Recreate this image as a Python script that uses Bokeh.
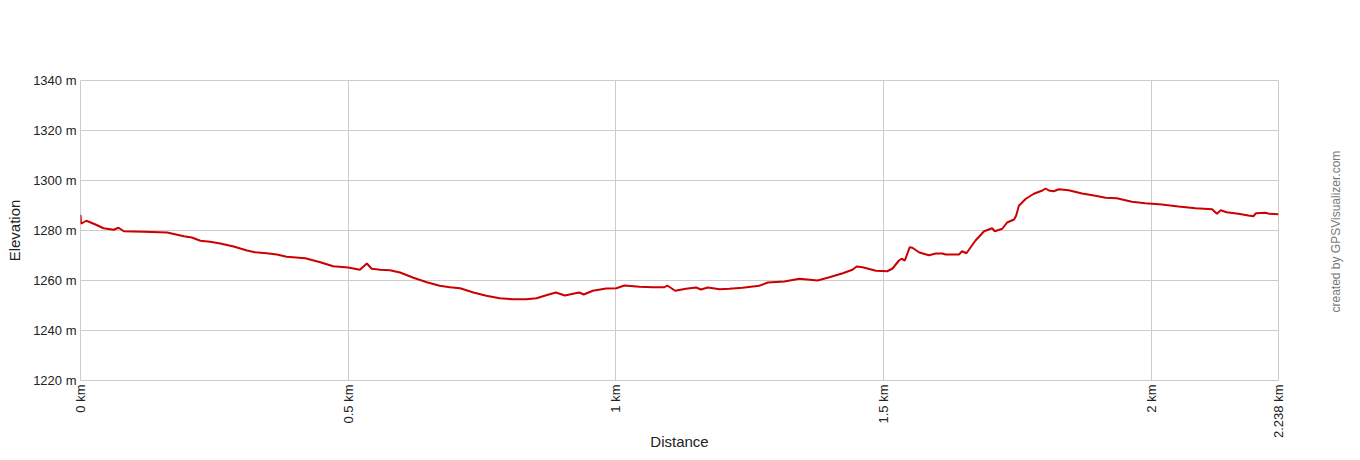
import math
from bokeh.plotting import figure
from bokeh.models import FixedTicker, LinearAxis, Range1d
from bokeh.embed import file_html
from bokeh.resources import INLINE

# distance in km
distance_km = [
    0.000, 0.001, 0.011, 0.028, 0.043, 0.062, 0.071, 0.081, 0.118, 0.162,
    0.193, 0.208, 0.224, 0.242, 0.261, 0.286, 0.311, 0.326, 0.348, 0.367,
    0.385, 0.420, 0.448, 0.472, 0.500, 0.522, 0.535, 0.544, 0.560, 0.578,
    0.597, 0.622, 0.647, 0.671, 0.690, 0.709, 0.734, 0.758, 0.783, 0.808,
    0.833, 0.852, 0.870, 0.888, 0.905, 0.920, 0.932, 0.940, 0.957, 0.982,
    1.001, 1.016, 1.044, 1.069, 1.091, 1.096, 1.111, 1.131, 1.150, 1.159,
    1.172, 1.194, 1.212, 1.237, 1.268, 1.284, 1.315, 1.343, 1.377, 1.399,
    1.424, 1.442, 1.450, 1.461, 1.486, 1.507, 1.517, 1.529, 1.534, 1.540,
    1.549, 1.554, 1.567, 1.585, 1.598, 1.610, 1.616, 1.641, 1.647, 1.655,
    1.672, 1.688, 1.703, 1.708, 1.722, 1.731, 1.744, 1.748, 1.753, 1.766,
    1.781, 1.797, 1.803, 1.809, 1.818, 1.828, 1.846, 1.871, 1.896, 1.915,
    1.936, 1.964, 1.989, 2.020, 2.051, 2.083, 2.114, 2.123, 2.130, 2.141,
    2.163, 2.182, 2.191, 2.196, 2.213, 2.221, 2.238,
]
# elevation in m
elevation_m = [
    1286.3, 1282.7, 1283.9, 1282.4, 1280.9, 1280.3, 1281.1, 1279.7, 1279.5, 1279.2,
    1277.7, 1277.2, 1275.9, 1275.5, 1274.8, 1273.6, 1272.0, 1271.3, 1270.9, 1270.4,
    1269.5, 1268.9, 1267.3, 1265.7, 1265.2, 1264.3, 1266.8, 1264.7, 1264.3, 1264.1,
    1263.2, 1261.1, 1259.3, 1257.9, 1257.3, 1256.9, 1255.2, 1253.9, 1252.9, 1252.5,
    1252.5, 1252.9, 1254.1, 1255.2, 1254.0, 1254.7, 1255.2, 1254.4, 1255.9, 1256.8,
    1256.9, 1258.0, 1257.5, 1257.3, 1257.3, 1258.0, 1255.9, 1256.7, 1257.2, 1256.4,
    1257.2, 1256.5, 1256.7, 1257.1, 1257.9, 1259.2, 1259.6, 1260.7, 1260.0, 1261.3,
    1262.9, 1264.3, 1265.6, 1265.3, 1263.9, 1263.7, 1264.8, 1268.0, 1268.7, 1268.0,
    1273.3, 1273.1, 1271.2, 1270.1, 1270.8, 1270.8, 1270.4, 1270.4, 1271.7, 1270.9,
    1276.0, 1279.7, 1280.9, 1279.7, 1280.7, 1283.2, 1284.4, 1286.0, 1289.9, 1292.7,
    1294.7, 1296.0, 1296.8, 1296.0, 1295.7, 1296.5, 1296.1, 1294.8, 1293.9, 1293.1,
    1292.9, 1291.5, 1290.9, 1290.4, 1289.6, 1288.9, 1288.5, 1286.7, 1288.1, 1287.3,
    1286.7, 1286.0, 1285.7, 1286.9, 1287.1, 1286.7, 1286.5,
]

x_ticks = [0, 0.5, 1, 1.5, 2, 2.238]
x_tick_labels = ["0 km", "0.5 km", "1 km", "1.5 km", "2 km", "2.238 km"]
y_ticks = [1220, 1240, 1260, 1280, 1300, 1320, 1340]
y_tick_labels = [f"{v} m" for v in y_ticks]
credit_text = "created by GPSVisualizer.com"
credit_anchor = 1247.2  # lower end of the rotated credit text

FONT = "Liberation Sans"
GRID = "#cccccc"

p = figure(
    width=1352, height=452,
    output_backend="svg", toolbar_location=None,
    x_range=Range1d(0, 2.238), y_range=Range1d(1220, 1340),
    min_border_left=80, min_border_right=72,
    min_border_top=80, min_border_bottom=72,
    x_axis_label="Distance", y_axis_label="Elevation",
)
p.outline_line_color = GRID
p.background_fill_color = "white"
p.border_fill_color = "white"

p.xaxis.ticker = FixedTicker(ticks=x_ticks)
p.xaxis.major_label_overrides = {t: l for t, l in zip(x_ticks, x_tick_labels)}
p.xaxis.major_label_orientation = math.pi / 2
p.yaxis.ticker = FixedTicker(ticks=y_ticks)
p.yaxis.major_label_overrides = {t: l for t, l in zip(y_ticks, y_tick_labels)}

credit_axis = LinearAxis(
    ticker=FixedTicker(ticks=[credit_anchor]),
    major_label_overrides={credit_anchor: credit_text},
    major_label_orientation=math.pi / 2,
)
p.add_layout(credit_axis, "right")

for ax in (p.xaxis[0], p.yaxis[0], credit_axis):
    ax.axis_line_color = None
    ax.major_tick_line_color = None
    ax.minor_tick_line_color = None
    ax.major_tick_out = 0
    ax.major_tick_in = 0
    ax.minor_tick_out = 0
    ax.minor_tick_in = 0
    ax.major_label_text_font = FONT
    ax.major_label_text_font_size = "13px"
    ax.major_label_text_color = "#222222"
    ax.axis_label_text_font = FONT
    ax.axis_label_text_font_size = "15px"
    ax.axis_label_text_font_style = "normal"
    ax.axis_label_text_color = "#222222"

credit_axis.major_label_text_font_size = "12px"
credit_axis.major_label_text_color = "#777777"
credit_axis.major_label_standoff = 57

p.xaxis.major_label_standoff = 4
p.xaxis.axis_label_standoff = -8
p.yaxis[0].major_label_standoff = 4
p.yaxis[0].axis_label_standoff = 7

p.xgrid.ticker = FixedTicker(ticks=x_ticks)
p.ygrid.ticker = FixedTicker(ticks=y_ticks)
p.grid.grid_line_color = GRID
p.grid.grid_line_width = 1

p.line(distance_km, elevation_m, line_color="#cc0000", line_width=2)

open("out.html", "w").write(file_html(p, INLINE))
